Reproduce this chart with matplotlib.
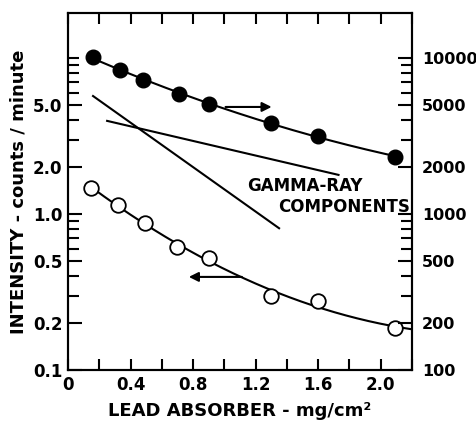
import numpy as np
import matplotlib
matplotlib.use("Agg")
import matplotlib.pyplot as plt

# readings
x_filled = [0.16, 0.33, 0.48, 0.71, 0.90, 1.30, 1.60, 2.09]
counts_filled = [10100, 8400, 7200, 5900, 5070, 3850, 3160, 2320]   # right axis

x_open = [0.15, 0.32, 0.49, 0.70, 0.90, 1.30, 1.60, 2.09]
intensity_open = [1.47, 1.14, 0.88, 0.61, 0.52, 0.30, 0.275, 0.186]  # left axis

# gamma-ray component straight lines (end points)
gamma_steep_x = [0.16, 1.35]
gamma_steep_y = [5.7, 0.81]
gamma_flat_x = [0.25, 1.73]
gamma_flat_y = [3.95, 1.78]

left_major = [0.1, 0.2, 0.5, 1.0, 2.0, 5.0]
left_labels = ["0.1", "0.2", "0.5", "1.0", "2.0", "5.0"]
right_major = [100, 200, 500, 1000, 2000, 5000, 10000]
right_labels = ["100", "200", "500", "1000", "2000", "5000", "10000"]
x_ticks = np.arange(0, 2.21, 0.2)
x_labels = ["0", "", "0.4", "", "0.8", "", "1.2", "", "1.6", "", "2.0", ""]

plt.rcParams['font.family'] = 'DejaVu Sans'
plt.rcParams['font.weight'] = 'bold'

fig = plt.figure(figsize=(4.77, 4.21), dpi=100)
ax = fig.add_axes([0.1426, 0.1211, 0.7211, 0.848])
ax2 = ax.twinx()

ax.set_yscale('log')
ax2.set_yscale('log')
ax.set_xlim(0, 2.2)
ax.set_ylim(0.1, 19.4)
ax2.set_ylim(100, 19400)

# smooth curves: quadratic fit in log space
p_f = np.polyfit(x_filled, np.log10(counts_filled), 2)
xs = np.linspace(x_filled[0], x_filled[-1], 200)
ax2.plot(xs, 10 ** np.polyval(p_f, xs), color='black', lw=1.5)
ax2.plot(x_filled, counts_filled, 'o', color='black', ms=10.5)

p_o = np.polyfit(x_open, np.log10(intensity_open), 2)
xs = np.linspace(x_open[0], 2.2, 200)
ax.plot(xs, 10 ** np.polyval(p_o, xs), color='black', lw=1.5)
ax.plot(x_open, intensity_open, 'o', mfc='white', mec='black', mew=1.3, ms=10.5)

ax.plot(gamma_steep_x, gamma_steep_y, color='black', lw=1.5)
ax.plot(gamma_flat_x, gamma_flat_y, color='black', lw=1.5)

ax.annotate("", xy=(1.32, 4.85), xytext=(0.99, 4.85),
            arrowprops=dict(arrowstyle='-|>', color='black', lw=1.5, mutation_scale=14))
ax.annotate("", xy=(0.755, 0.395), xytext=(1.13, 0.395),
            arrowprops=dict(arrowstyle='-|>', color='black', lw=1.5, mutation_scale=14))

ax.text(1.144, 1.51, "GAMMA-RAY", fontsize=12, fontweight='bold', va='center', ha='left')
ax.text(2.185, 1.11, "COMPONENTS", fontsize=12, fontweight='bold', va='center', ha='right')

ax.set_xticks(x_ticks)
ax.set_xticklabels(x_labels, fontsize=12, fontweight='bold')
ax.set_yticks(left_major)
ax.set_yticklabels(left_labels, fontsize=12, fontweight='bold')
ax.set_yticks([v * m for m in (0.1, 1.0) for v in range(1, 10)] + [10], minor=True)
ax.yaxis.set_minor_formatter(matplotlib.ticker.NullFormatter())
ax2.set_yticks(right_major)
ax2.set_yticklabels(right_labels, fontsize=11.5, fontweight='bold')
ax2.set_yticks([v * m for m in (100, 1000) for v in range(1, 10)] + [10000], minor=True)
ax2.yaxis.set_minor_formatter(matplotlib.ticker.NullFormatter())

ax.tick_params(axis='x', which='both', direction='in', length=8, width=1.5, top=True, pad=4)
ax.tick_params(axis='y', which='major', direction='in', length=10, width=1.5, pad=4)
ax.tick_params(axis='y', which='minor', direction='in', length=8, width=1.5)
ax2.tick_params(axis='y', which='major', direction='in', length=10, width=1.5, pad=7)
ax2.tick_params(axis='y', which='minor', direction='in', length=8, width=1.5)

for a in (ax, ax2):
    for s in a.spines.values():
        s.set_linewidth(1.5)

ax.set_xlabel("LEAD ABSORBER - mg/cm²", fontsize=13, fontweight='bold', labelpad=6)
ax.set_ylabel("INTENSITY - counts / minute", fontsize=13, fontweight='bold', labelpad=4)

fig.savefig("out.png", dpi=100)
